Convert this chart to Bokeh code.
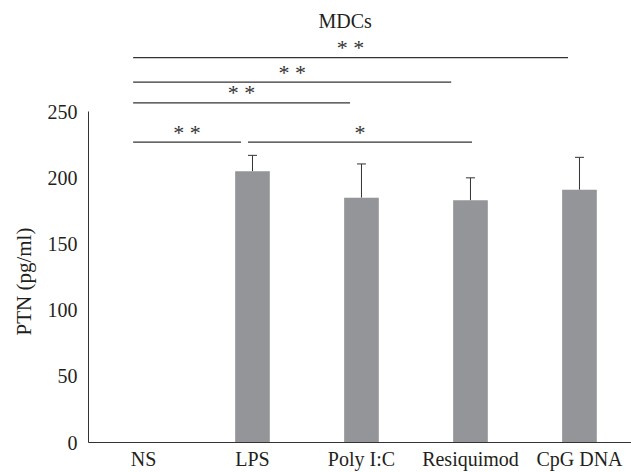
from bokeh.plotting import figure
from bokeh.models import Range1d, FixedTicker, ColumnDataSource, Whisker, TeeHead, Title
from bokeh.embed import file_html
from bokeh.resources import INLINE
from bokeh.core.properties import value

# ---- data ----
categories = ["NS", "LPS", "Poly I:C", "Resiquimod", "CpG DNA"]
means = [0, 205, 185, 183, 191]
errors = [0, 12, 25.5, 17, 24.5]
y_ticks = [0, 50, 100, 150, 200, 250]

# significance brackets (x in category index units, y in pg/ml)
sig_start = [-0.095, 0.959, -0.095, -0.095, -0.095]
sig_end = [0.895, 3.014, 1.895, 2.823, 3.895]
sig_height = [227, 227, 256.6, 272.4, 290.8]
sig_label = ["* *", "*", "* *", "* *", "* *"]

FONT = "Liberation Serif"
TXT = "#231f20"

xs = list(range(len(categories)))

p = figure(width=631, height=472, output_backend="svg", toolbar_location=None,
           x_range=Range1d(-0.5045, 4.4773), y_range=Range1d(0, 305.3),
           min_border_left=83, min_border_right=0, min_border_top=38,
           min_border_bottom=28)
p.title.text = "MDCs"
p.title.align = "left"
p.title.offset = 230
p.title.text_font = FONT
p.title.text_font_style = "normal"
p.title.text_font_size = "20px"
p.title.text_color = TXT
p.title.standoff = 14

p.xgrid.grid_line_color = None
p.ygrid.grid_line_color = None
p.outline_line_color = None
p.background_fill_color = "white"
p.border_fill_color = "white"

bars = ColumnDataSource(dict(x=xs, top=means,
                             upper=[m + e for m, e in zip(means, errors)]))
p.vbar(x="x", top="top", width=0.318, source=bars, fill_color="#939598",
       line_color=None)

w = Whisker(base="x", upper="upper", lower="top", source=bars,
            dimension="height", line_color="#333333", line_width=1,
            lower_head=None,
            upper_head=TeeHead(size=9, line_color="#333333", line_width=1))
p.add_layout(w)

p.segment(x0=sig_start, y0=sig_height, x1=sig_end, y1=sig_height,
          line_color="#333333", line_width=1.2)
p.text(x=[(a + b) / 2 for a, b in zip(sig_start, sig_end)], y=sig_height,
       text=sig_label, text_font=value(FONT), text_font_size="22px",
       text_align="center", text_baseline="middle", text_color="#333333",
       y_offset=-10)

for ax in (p.xaxis[0], p.yaxis[0]):
    ax.axis_line_color = "#333333"
    ax.axis_line_width = 1
    ax.major_tick_line_color = None
    ax.minor_tick_line_color = None
    ax.major_tick_out = 0
    ax.major_tick_in = 0
    ax.minor_tick_out = 0
    ax.minor_tick_in = 0
    ax.major_label_text_font = FONT
    ax.major_label_text_font_size = "20px"
    ax.major_label_text_color = TXT

p.xaxis.ticker = FixedTicker(ticks=xs)
p.xaxis.major_label_overrides = {i: c for i, c in enumerate(categories)}
p.xaxis.major_label_standoff = 5

p.yaxis.ticker = FixedTicker(ticks=y_ticks)
p.yaxis.bounds = (0, 250)
p.yaxis.major_label_standoff = 11

ylab = Title(text="PTN (pg/ml)", align="left", offset=107,
             text_font=FONT, text_font_size="21px", text_font_style="normal",
             text_color=TXT, standoff=18)
p.add_layout(ylab, "left")

open("out.html", "w").write(file_html(p, INLINE))
